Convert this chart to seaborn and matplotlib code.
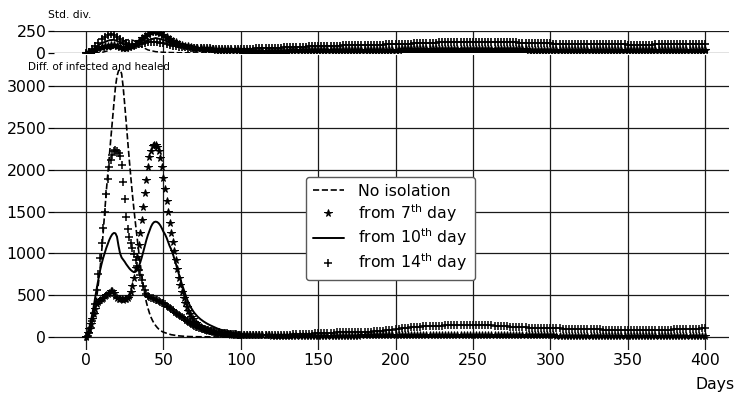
import matplotlib
matplotlib.use("Agg")
import matplotlib.pyplot as plt
import pandas as pd
import seaborn as sns

# ---------------------------------------------------------------------------
# Difference of infected and healed (daily resolution over the first 100 days,
# every second day afterwards)
# ---------------------------------------------------------------------------
DAYS_DAILY = list(range(0, 101))
DAYS_LATE = list(range(102, 401, 2))

# "No isolation" curve (dashed line)
NOISO_DAYS = list(range(0, 51)) + [55, 60, 65, 70, 80, 90, 100, 150, 200, 250, 300, 350, 400]
NOISO_VALUES = [
    0, 15, 40, 90, 160, 250, 360, 490, 640, 800,
    1000, 1230, 1480, 1720, 1940, 2150, 2370, 2580, 2790, 2990,
    3120, 3185, 3200, 3150, 2990, 2780, 2560, 2330, 2110, 1900,
    1700, 1520, 1350, 1190, 1030, 880, 740, 615, 505, 415,
    345, 285, 235, 195, 162, 136, 113, 94, 79, 67,
    57, 27, 13, 6, 3, 1, 0, 0, 0, 0, 0, 0, 0, 0,
]

# Isolation from the 7th day (star markers)
DAY7_EARLY = [
    0, 50, 100, 150, 210, 280, 340, 390, 420, 440,
    455, 470, 485, 500, 515, 530, 545, 550, 530, 495,
    465, 455, 450, 450, 448, 450, 452, 462, 490, 540,
    610, 710, 830, 960, 1100, 1250, 1400, 1560, 1720, 1880,
    2030, 2150, 2230, 2280, 2300, 2300, 2270, 2220, 2140, 2030,
    1900, 1770, 1630, 1490, 1360, 1250, 1140, 1030, 920, 810,
    710, 620, 540, 470, 410, 360, 315, 275, 240, 210,
    185, 165, 148, 133, 120, 108, 98, 90, 83, 77,
    71, 66, 61, 57, 53, 49, 46, 43, 40, 38,
    36, 34, 32, 30, 29, 27, 26, 25, 24, 23,
    22,
]
DAY7_LATE = [
    21, 21, 20, 20, 19, 19, 18, 18, 18, 17, 17, 17, 16, 16, 16, 16, 15, 15, 15, 15, 15, 15, 15, 15, 15,
    15, 15, 15, 15, 16, 16, 16, 16, 16, 17, 17, 17, 17, 18, 18, 18, 18, 18, 19, 19, 19, 19, 20, 20, 20,
    20, 20, 21, 21, 21, 21, 22, 22, 22, 22, 22, 23, 23, 23, 23, 23, 23, 23, 23, 23, 23, 23, 23, 23, 23,
    23, 23, 23, 22, 22, 22, 22, 22, 21, 21, 21, 21, 20, 20, 20, 20, 19, 19, 19, 19, 18, 18, 18, 18, 18,
    18, 17, 17, 17, 17, 16, 16, 16, 16, 16, 15, 15, 15, 15, 15, 15, 14, 14, 14, 14, 14, 14, 14, 14, 14,
    14, 14, 14, 14, 14, 14, 14, 14, 14, 15, 15, 15, 15, 15, 15, 15, 15, 15, 15, 15, 15, 15, 15, 15, 15,
]

# Isolation from the 10th day (solid line)
DAY10_DAYS = list(range(0, 71)) + [72, 74, 76, 78, 80, 82, 85, 90, 95, 100,
                                   120, 150, 200, 250, 300, 350, 400]
DAY10_VALUES = [
    0, 40, 100, 180, 270, 370, 480, 590, 690, 790,
    870, 940, 1000, 1060, 1110, 1160, 1200, 1230, 1245, 1240,
    1200, 1090, 1000, 950, 925, 900, 870, 845, 820, 800,
    785, 775, 780, 800, 840, 890, 950, 1020, 1090, 1160,
    1220, 1270, 1320, 1355, 1375, 1380, 1375, 1360, 1335, 1300,
    1260, 1230, 1190, 1140, 1090, 1050, 1000, 940, 880, 815,
    750, 690, 630, 575, 520, 465, 420, 380, 345, 315,
    288, 245, 212, 185, 162, 142, 125, 100, 68, 48, 35,
    20, 12, 10, 8, 6, 5, 5,
]

# Isolation from the 14th day (plus markers)
DAY14_EARLY = [
    0, 15, 50, 110, 190, 290, 400, 560, 750, 940,
    1120, 1300, 1500, 1710, 1890, 2030, 2120, 2180, 2220, 2240,
    2230, 2200, 2160, 2060, 1860, 1650, 1440, 1290, 1200, 1130,
    1060, 990, 915, 845, 800, 745, 685, 615, 560, 520,
    495, 482, 472, 463, 455, 447, 440, 432, 422, 412,
    402, 390, 376, 361, 346, 332, 318, 304, 290, 277,
    263, 250, 236, 222, 208, 194, 180, 167, 155, 144,
    134, 125, 117, 110, 104, 98, 93, 88, 84, 80,
    76, 72, 68, 65, 61, 58, 55, 52, 49, 46,
    44, 42, 40, 38, 36, 34, 32, 30, 29, 28,
    27,
]
DAY14_LATE = [
    26, 26, 25, 25, 24, 24, 24, 24, 24, 25, 25, 25, 26, 27, 28, 29, 30, 31, 33, 34, 36, 38, 40, 42, 44,
    47, 49, 50, 52, 53, 54, 55, 56, 57, 58, 59, 60, 61, 62, 63, 64, 65, 67, 69, 71, 74, 78, 83, 88, 94,
    98, 102, 106, 110, 114, 118, 121, 124, 127, 129, 131, 133, 135, 136, 137, 138, 139, 140, 141, 142, 142, 143, 143, 144, 144,
    144, 143, 142, 141, 140, 138, 136, 134, 131, 129, 127, 125, 122, 120, 118, 116, 114, 112, 111, 110, 109, 108, 107, 106, 105,
    104, 103, 102, 101, 100, 99, 98, 97, 96, 96, 95, 94, 93, 92, 91, 90, 89, 88, 87, 86, 85, 84, 82, 81, 80,
    80, 80, 80, 80, 81, 81, 82, 83, 84, 85, 86, 87, 88, 89, 90, 91, 92, 93, 94, 96, 97, 98, 100, 102, 104,
]

# ---------------------------------------------------------------------------
# Standard deviation of the runs (every second day)
# ---------------------------------------------------------------------------
STD_DAYS_EARLY = list(range(0, 101, 2))

STD_NOISO_DAYS = [0, 10, 15, 20, 25, 28, 31, 35, 40, 45, 50, 60, 80, 100, 400]
STD_NOISO = [0, 5, 30, 90, 140, 155, 140, 80, 35, 15, 8, 3, 1, 0, 0]

STD_DAY7_EARLY = [
    0, 10, 25, 40, 55, 65, 75, 85, 90, 88,
    78, 68, 62, 60, 65, 80, 105, 135, 165, 195,
    220, 238, 245, 240, 225, 205, 180, 158, 138, 120,
    105, 92, 82, 74, 67, 61, 56, 52, 48, 45,
    42, 40, 38, 36, 34, 33, 32, 31, 30, 29,
    28,
]
STD_DAY7_LATE = [
    28, 28, 27, 27, 27, 27, 27, 27, 27, 27, 28, 28, 28, 28, 28, 29, 29, 29, 29, 30, 30, 30, 30, 31, 31,
    31, 31, 32, 32, 32, 33, 33, 33, 34, 34, 34, 35, 35, 35, 36, 36, 36, 37, 37, 37, 38, 38, 38, 39, 39,
    39, 40, 40, 40, 41, 41, 41, 42, 42, 42, 42, 43, 43, 43, 43, 43, 44, 44, 44, 44, 44, 44, 44, 44, 44,
    44, 44, 44, 44, 43, 43, 43, 43, 42, 42, 42, 41, 41, 41, 40, 40, 40, 39, 39, 39, 38, 38, 38, 37, 37,
    37, 36, 36, 36, 35, 35, 35, 34, 34, 34, 34, 33, 33, 33, 33, 32, 32, 32, 32, 32, 31, 31, 31, 31, 31,
    31, 31, 31, 31, 31, 31, 31, 31, 31, 31, 31, 32, 32, 32, 32, 32, 32, 32, 33, 33, 33, 33, 33, 33, 33,
]

STD_DAY10_DAYS = [0, 5, 10, 15, 18, 21, 25, 30, 35, 40, 45, 50, 55, 60, 65, 70, 80, 90, 100,
                  150, 200, 250, 300, 350, 400]
STD_DAY10 = [0, 50, 110, 145, 150, 130, 95, 80, 100, 145, 170, 150, 110, 75, 55, 42, 30, 22, 18,
             12, 10, 10, 8, 8, 8]

STD_DAY14_EARLY = [
    0, 15, 40, 75, 115, 155, 185, 205, 212, 205,
    185, 160, 135, 115, 100, 95, 95, 98, 105, 112,
    120, 126, 128, 125, 118, 108, 98, 90, 83, 77,
    72, 68, 65, 62, 60, 58, 56, 55, 54, 53,
    52, 51, 51, 50, 50, 50, 50, 50, 50, 50,
    50,
]
STD_DAY14_LATE = [
    50, 50, 51, 51, 52, 53, 54, 55, 56, 57, 58, 60, 61, 63, 64, 66, 67, 69, 70, 72, 73, 75, 76, 78, 79,
    80, 81, 82, 83, 84, 85, 85, 86, 87, 87, 88, 88, 89, 89, 90, 91, 92, 93, 94, 95, 96, 97, 98, 99, 100,
    101, 103, 104, 106, 107, 109, 110, 112, 113, 115, 116, 118, 119, 120, 122, 123, 124, 125, 126, 127, 128, 128, 129, 129, 130,
    130, 130, 129, 129, 128, 128, 127, 126, 125, 124, 123, 122, 121, 120, 119, 118, 116, 115, 114, 113, 112, 111, 110, 109, 108,
    107, 107, 106, 105, 105, 104, 104, 103, 103, 102, 102, 101, 101, 100, 100, 99, 99, 99, 98, 98, 98, 97, 97, 97, 96,
    96, 96, 96, 96, 96, 96, 96, 96, 97, 97, 97, 97, 97, 98, 98, 98, 98, 98, 99, 99, 99, 99, 100, 100, 100,
]

LEGEND_LABELS = [
    "No isolation",
    r"from 7$^{\mathrm{th}}$ day",
    r"from 10$^{\mathrm{th}}$ day",
    r"from 14$^{\mathrm{th}}$ day",
]
X_TICKS = list(range(0, 401, 50))
Y_TICKS = list(range(0, 3001, 500))
STD_TICKS = [0, 250]

# ---------------------------------------------------------------------------
sns.set_style("whitegrid", {
    "grid.color": "#1a1a1a",
    "grid.linestyle": "-",
    "axes.edgecolor": "white",
    "text.color": "black",
    "xtick.color": "black",
    "ytick.color": "black",
    "xtick.bottom": False,
    "ytick.left": True,
})
plt.rcParams["font.family"] = ["DejaVu Sans"]
plt.rcParams["mathtext.fontset"] = "dejavusans"
plt.rcParams["grid.linewidth"] = 0.9

fig = plt.figure(figsize=(7.4, 3.94), dpi=100)
LEFT, WIDTH = 54 / 740, 675 / 740
ax = fig.add_axes([LEFT, 44 / 394, WIDTH, 295 / 394])
ax_std = fig.add_axes([LEFT, 341 / 394, WIDTH, 22 / 394], sharex=ax)


def frame(days, values):
    return pd.DataFrame({"day": days, "value": values})


marker_common = dict(color="black", linestyle="none", estimator=None, sort=False,
                     markeredgecolor="black")

# --- main panel -------------------------------------------------------------
sns.lineplot(data=frame(NOISO_DAYS, NOISO_VALUES), x="day", y="value", ax=ax,
             color="black", linestyle="--", linewidth=1.2, estimator=None,
             sort=False, label=LEGEND_LABELS[0])
sns.lineplot(data=frame(DAYS_DAILY + DAYS_LATE, DAY7_EARLY + DAY7_LATE), x="day", y="value",
             ax=ax, marker="*", markersize=5.5, markeredgewidth=0.7,
             label=LEGEND_LABELS[1], **marker_common)
sns.lineplot(data=frame(DAY10_DAYS, DAY10_VALUES), x="day", y="value", ax=ax,
             color="black", linestyle="-", linewidth=1.4, estimator=None,
             sort=False, label=LEGEND_LABELS[2])
sns.lineplot(data=frame(DAYS_DAILY + DAYS_LATE, DAY14_EARLY + DAY14_LATE), x="day", y="value",
             ax=ax, marker="+", markersize=5.5, markeredgewidth=1.1,
             label=LEGEND_LABELS[3], **marker_common)

ax.set_xlim(-20.7, 415.5)
ax.set_ylim(-156, 3374)
ax.set_xticks(X_TICKS)
ax.set_yticks(Y_TICKS)
ax.set_xlabel("")
ax.set_ylabel("")
ax.tick_params(axis="both", labelsize=11.3, labelcolor="black")
ax.tick_params(axis="x", length=0, pad=2)
ax.tick_params(axis="y", length=4, width=0.9, pad=1.5, color="black")
ax.legend(loc="center", bbox_to_anchor=(0.498, 0.412), fontsize=11.3,
          frameon=True, framealpha=1, edgecolor="0.35", fancybox=True,
          borderpad=0.45, labelspacing=0.2, handlelength=2.0, handletextpad=0.9,
          borderaxespad=0.0)

# --- standard deviation panel -------------------------------------------------
sns.lineplot(data=frame(STD_NOISO_DAYS, STD_NOISO), x="day", y="value", ax=ax_std,
             color="black", linestyle="--", linewidth=1.1, estimator=None,
             sort=False, legend=False)
sns.lineplot(data=frame(STD_DAYS_EARLY + DAYS_LATE, STD_DAY7_EARLY + STD_DAY7_LATE),
             x="day", y="value", ax=ax_std, marker="*", markersize=6,
             markeredgewidth=0.8, legend=False, **marker_common)
sns.lineplot(data=frame(STD_DAY10_DAYS, STD_DAY10), x="day", y="value", ax=ax_std,
             color="black", linestyle="-", linewidth=1.4, estimator=None,
             sort=False, legend=False)
sns.lineplot(data=frame(STD_DAYS_EARLY + DAYS_LATE, STD_DAY14_EARLY + STD_DAY14_LATE),
             x="day", y="value", ax=ax_std, marker="+", markersize=6,
             markeredgewidth=1.2, legend=False, **marker_common)

ax_std.set_ylim(0, 250)
ax_std.set_yticks(STD_TICKS)
ax_std.set_xlabel("")
ax_std.set_ylabel("")
ax_std.tick_params(axis="x", labelbottom=False, length=0)
ax_std.tick_params(axis="y", labelsize=11.3, labelcolor="black", length=4, width=0.9,
                   pad=1.5, color="black")

for a in (ax, ax_std):
    for s in a.spines.values():
        s.set_visible(False)

# --- panel captions -----------------------------------------------------------
fig.text(48 / 740, 1 - 18 / 394, "Std. div.", fontsize=7.7, va="baseline")
fig.text(28 / 740, 1 - 70 / 394, "Diff. of infected and healed", fontsize=7.5, va="baseline")
fig.text(735 / 740, 1 - 389 / 394, "Days", fontsize=11.3, ha="right", va="baseline")

fig.savefig("out.png", dpi=100)
